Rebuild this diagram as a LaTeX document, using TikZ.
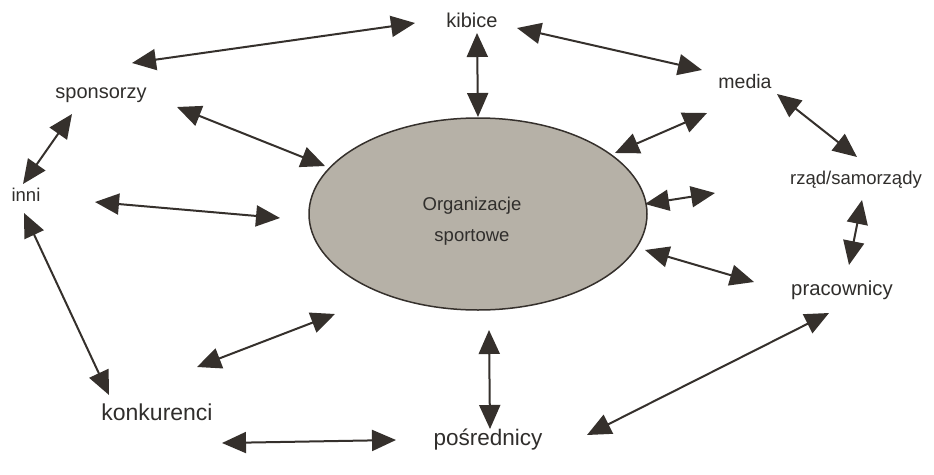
\documentclass[tikz,border=0pt]{standalone}
\usepackage{fontspec}
\setmainfont{Liberation Sans}
\usetikzlibrary{arrows.meta,shapes.geometric}
\definecolor{ink}{HTML}{35302C}
\definecolor{txt}{HTML}{302E2C}
\definecolor{orgfill}{HTML}{B6B1A7}
\tikzset{
  lbl/.style={text=txt, inner sep=0pt, anchor=center},
  fs/.style={font=\fontsize{#1}{#1}\selectfont},
  rel/.style={draw=ink, line width=2pt, {Triangle[length=24pt,width=21pt]}-{Triangle[length=24pt,width=21pt]}}
}
\begin{document}
\begin{tikzpicture}[x=1pt,y=-1pt]
\useasboundingbox (0,0) rectangle (934,474);
\fill[white] (0,0) rectangle (934,474);
% central ellipse
\node[draw=ink, line width=1.5pt, fill=orgfill, ellipse, minimum width=338pt, minimum height=192pt, inner sep=0pt] (org) at (478,214) {};
\node[lbl, align=center, font=\fontsize{18.5}{31}\selectfont] (orgt) at (472,221) {Organizacje\\sportowe};
% labels
\node[lbl, fs=20] (kib) at (472,20) {kibice};
\node[lbl, fs=20] (spo) at (101,95) {sponsorzy};
\node[lbl, fs=19.5] (med) at (745,82) {media};
\node[lbl, fs=18.5] (rza) at (856,180) {rząd/samorządy};
\node[lbl, fs=18.5] (inn) at (26,195) {inni};
\node[lbl, fs=20.3] (pra) at (842,290) {pracownicy};
\node[lbl, fs=23] (kon) at (157,412) {konkurenci};
\node[lbl, fs=22.5] (pos) at (488,440) {pośrednicy};
% arrow endpoints
\coordinate (a1) at (132,63);  \coordinate (b1) at (415,23);
\coordinate (a2) at (517,28);  \coordinate (b2) at (702,70);
\coordinate (a3) at (477,33);  \coordinate (b3) at (478,117);
\coordinate (a4) at (177,107); \coordinate (b4) at (325,166);
\coordinate (a5) at (72,114);  \coordinate (b5) at (23,184);
\coordinate (a6) at (95,202);  \coordinate (b6) at (280,218);
\coordinate (a7) at (24,213);  \coordinate (b7) at (109,395);
\coordinate (a8) at (197,367); \coordinate (b8) at (335,314);
\coordinate (a9) at (222,443); \coordinate (b9) at (396,440);
\coordinate (a10) at (489,330); \coordinate (b10) at (490,429);
\coordinate (a11) at (587,435); \coordinate (b11) at (829,313);
\coordinate (a12) at (645,250); \coordinate (b12) at (754,282);
\coordinate (a13) at (645,204); \coordinate (b13) at (715,193);
\coordinate (a14) at (615,153); \coordinate (b14) at (707,113);
\coordinate (a15) at (777,94);  \coordinate (b15) at (857,157);
\coordinate (a16) at (862,200); \coordinate (b16) at (849,265);
\foreach \i in {1,...,16} {\draw[rel] (a\i) -- (b\i);}
\end{tikzpicture}
\end{document}
